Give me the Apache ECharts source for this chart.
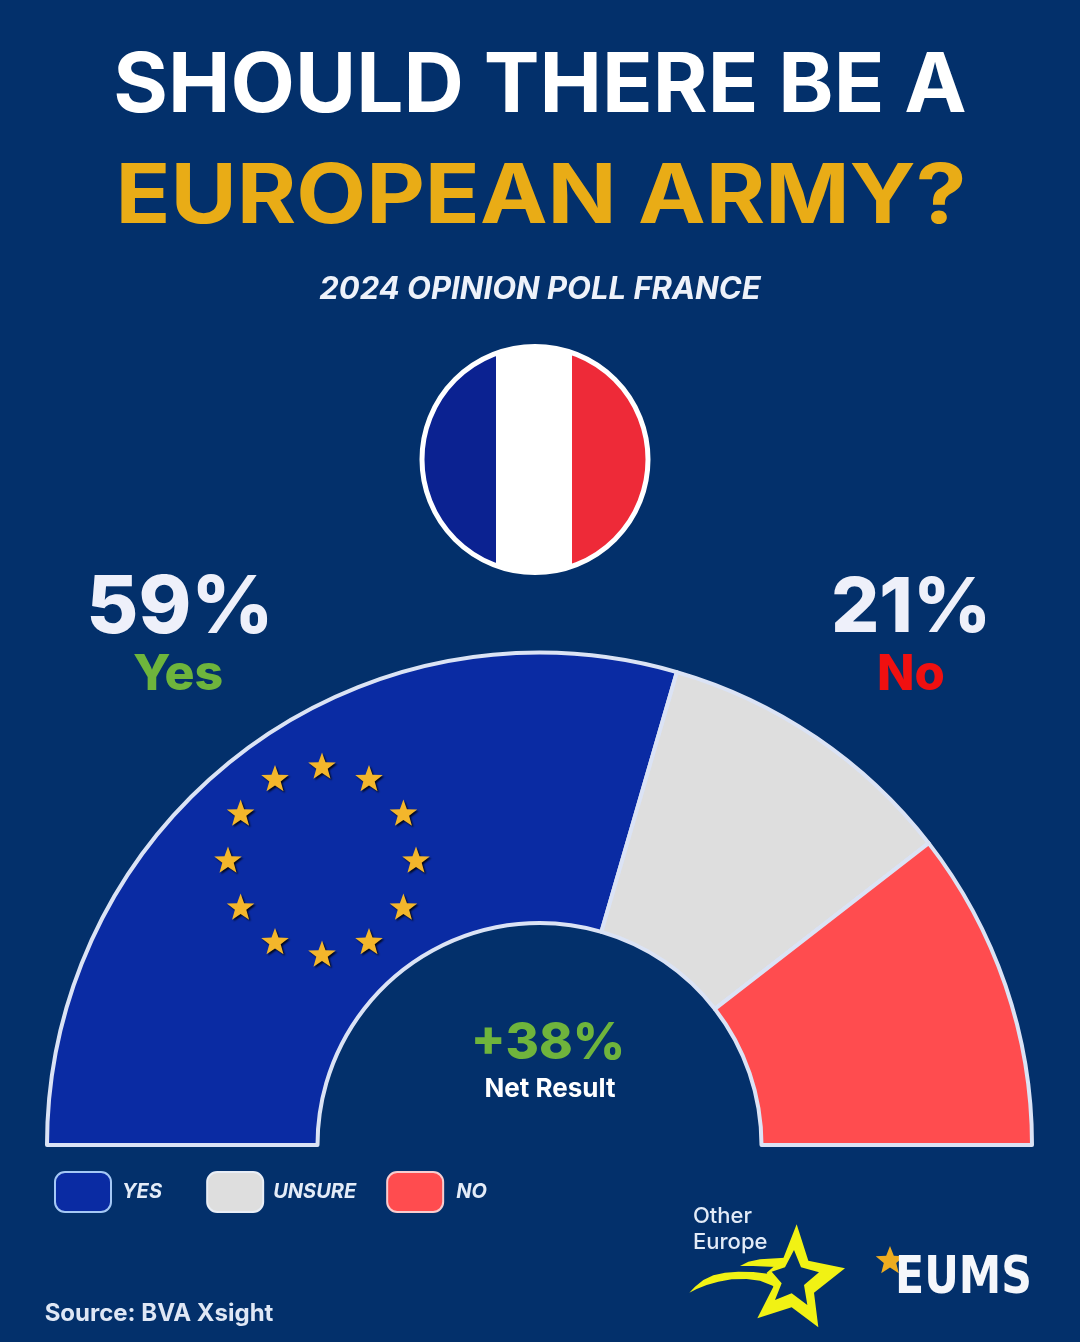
<!DOCTYPE html>
<html><head><meta charset="utf-8">
<style>html,body{margin:0;padding:0;background:#03306b}#c{width:1080px;height:1342px}</style>
<script src="https://cdn.jsdelivr.net/npm/echarts@6/dist/echarts.min.js"></script>
</head><body><div id="c"></div>
<script>
const categories = ['YES', 'UNSURE', 'NO'];
const shares = [59, 20, 21];
const sliceColors = ['#0a2ba3', '#dedede', '#ff4c4f'];
const swatchBorders = ['#a5c8f5', '#e9eef6', '#f8cdd0'];
const callouts = ['Yes', 'No'];
const titleLines = ['SHOULD THERE BE A', 'EUROPEAN ARMY?'];
const subtitle = '2024 OPINION POLL FRANCE';
const source = 'Source: BVA Xsight';
const BG = '#03306b';
const F = 'Inter';

const chart = echarts.init(document.getElementById('c'), null, {renderer: 'canvas'});

function starPoints(cx, cy, R, r) {
  const pts = [];
  for (let i = 0; i < 10; i++) {
    const a = -Math.PI / 2 + i * Math.PI / 5, q = i % 2 ? r : R;
    pts.push([cx + q * Math.cos(a), cy + q * Math.sin(a)]);
  }
  return pts;
}
const z = (p) => p.map(([x, y]) => [670 + x / 3, 1190 + y / 3]);

function txt(text, x, y, size, color, weight, extra, scaleX, family) {
  const fam = family || F;
  return {type: 'text', x, y, scaleX: scaleX || 1, silent: true, z: 20, style: Object.assign({
    text, fill: color, fontFamily: fam, fontSize: size, fontWeight: weight || 700,
    textAlign: 'center', textVerticalAlign: 'middle'
  }, extra || {})};
}

const euStars = [];
for (let i = 0; i < 12; i++) {
  const a = i * Math.PI / 6;
  euStars.push({type: 'polygon', silent: true, z: 15,
    shape: {points: starPoints(322 + 94 * Math.sin(a), 861 - 94 * Math.cos(a), 14.5, 6)},
    style: {fill: '#f3b62b', shadowColor: 'rgba(0,0,0,0.85)', shadowBlur: 2, shadowOffsetX: 1.5, shadowOffsetY: 1.5}});
}
const YEL = '#f1f214';
const graphics = [
  txt(titleLines[0], 540, 87, 82, '#ffffff', 700, null, 1.02),
  txt(titleLines[1], 541, 198, 82, '#e9ac16', 700, null, 1.105),
  txt(subtitle, 540, 290, 31, '#eef2fa', 700, {fontStyle: 'italic'}),
  {type: 'circle', silent: true, z: 10, shape: {cx: 535, cy: 459.5, r: 113},
    style: {stroke: '#ffffff', lineWidth: 5,
      fill: new echarts.graphic.LinearGradient(0, 0, 1, 0, [
        {offset: 0, color: '#0b2291'}, {offset: .33, color: '#0b2291'},
        {offset: .33, color: '#ffffff'}, {offset: .662, color: '#ffffff'},
        {offset: .662, color: '#ee2a38'}, {offset: 1, color: '#ee2a38'}])}},
  txt(shares[0] + '%', 180, 609, 80, '#eef0fa', 800),
  txt(callouts[0], 178, 675, 50, '#6eb53c', 800),
  txt(shares[2] + '%', 911, 609, 76, '#eef0fa', 800),
  txt(callouts[1], 911, 675, 49, '#f01010', 800),
  txt('+' + (shares[0] - shares[2]) + '%', 548, 1044, 51, '#6fb43c', 800),
  txt('Net Result', 550, 1089, 26, '#ffffff', 700),
  txt(source, 159, 1314, 24, '#dfe7f5', 700),
  ...euStars,
  // Other Europe logo
  txt('Other', 693, 1216, 22, '#e3ebf7', 500, {textAlign: 'left'}),
  txt('Europe', 693, 1242, 22, '#e3ebf7', 500, {textAlign: 'left'}),
  {type: 'polygon', silent: true, z: 16, shape: {points: z([[380,103],[415,212],[525,235],[432,308],[445,412],[365,352],[262,385],[310,290],[290,248],[340,205]])}, style: {fill: YEL}},
  {type: 'polygon', silent: true, z: 16, shape: {points: z([[58,308],[75,290],[100,270],[130,256],[165,248],[205,245],[250,246],[300,252],[330,268],[310,288],[270,272],[230,267],[185,268],[145,275],[110,285],[80,297]])}, style: {fill: YEL}},
  {type: 'polygon', silent: true, z: 16, shape: {points: z([[210,228],[235,215],[270,208],[345,203],[348,232],[300,230],[250,228]])}, style: {fill: YEL}},
  {type: 'polygon', silent: true, z: 17, shape: {points: z([[372,180],[393,232],[447,247],[402,285],[412,345],[365,310],[315,330],[335,280],[305,245],[345,232]])}, style: {fill: BG}},
  // EUMS logo
  {type: 'polygon', silent: true, z: 16, shape: {points: starPoints(890, 1261, 15, 6.5)}, style: {fill: '#eeac20'}},
  txt('EUMS', 963.5, 1279, 52, '#f5f7fb', 700, null, 0.82, 'DejaVu Sans')
];

chart.setOption({
  animation: false,
  backgroundColor: BG,
  legend: {
    left: 49, top: 1166, orient: 'horizontal', itemWidth: 56, itemHeight: 40, itemGap: 30, selectedMode: false,
    icon: 'roundRect',
    formatter: (name) => name === 'YES' ? name + '\u00a0\u00a0\u00a0' : name,
    textStyle: {color: '#e4ecf8', fontFamily: F, fontStyle: 'italic', fontWeight: 700, fontSize: 20, padding: [0, 0, 0, 5]},
    data: categories.map((name, i) => ({name,
      itemStyle: {color: sliceColors[i], borderColor: swatchBorders[i], borderWidth: 2},
      textStyle: i === 0 ? {padding: [0, 0, 0, 6]} : i === 2 ? {padding: [0, 0, 0, 8]} : {}}))
  },
  series: [{
    type: 'pie', silent: true, center: [539.5, 1145], radius: [222, 492.5],
    startAngle: 180, endAngle: 360, label: {show: false}, labelLine: {show: false},
    itemStyle: {borderColor: '#dbe3f5', borderWidth: 4},
    data: categories.map((name, i) => ({name, value: shares[i], itemStyle: {color: sliceColors[i]}}))
  }],
  graphic: {elements: graphics}
});
</script></body></html>
